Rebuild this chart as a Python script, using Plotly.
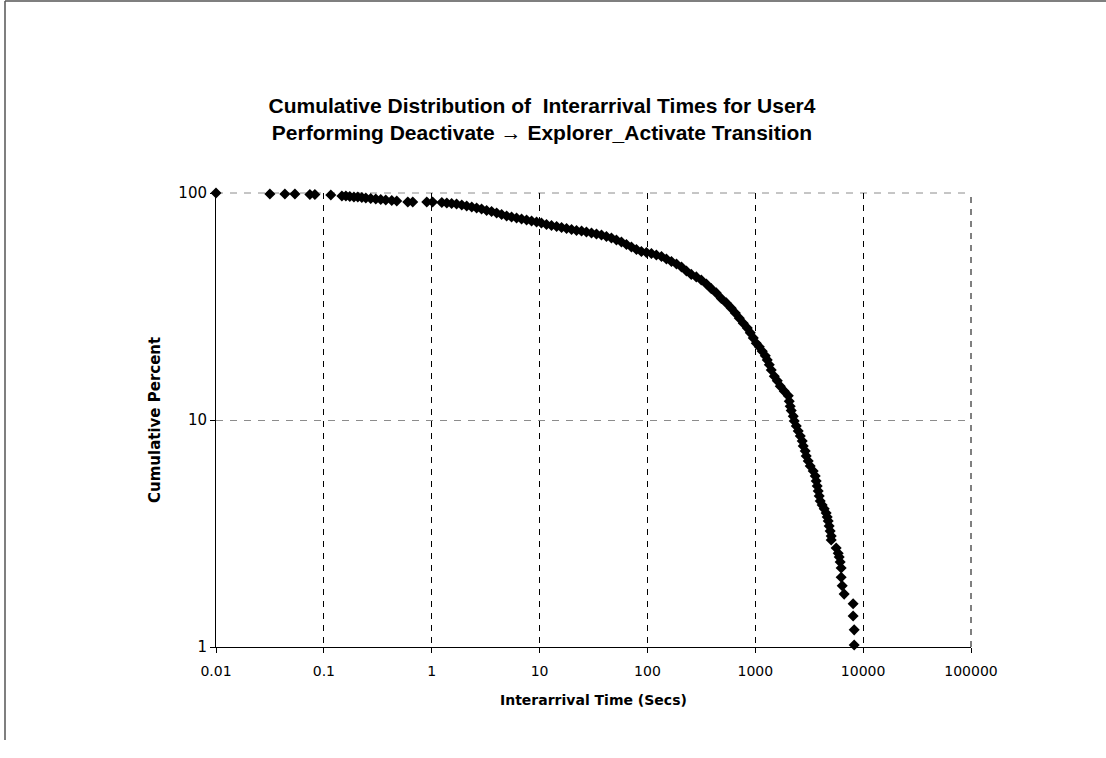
import plotly.graph_objects as go

# Interarrival time (secs) and cumulative percent
interarrival_secs = [
    0.01, 0.0316, 0.0435, 0.0539, 0.0742, 0.0826, 0.116,
    0.147, 0.160, 0.174, 0.190, 0.2065, 0.225, 0.245, 0.272, 0.303, 0.337, 0.375, 0.426, 0.474,
    0.600, 0.667, 0.900, 1.02,
    1.24, 1.38, 1.53, 1.70, 1.90, 2.11, 2.35, 2.61, 2.90, 3.23, 3.59, 4.00, 4.45, 4.95, 5.50,
    6.12, 6.81, 7.58, 8.43, 9.38, 10.4, 11.6, 12.9, 14.4, 16.0, 17.8, 19.8, 22.0, 24.5, 27.2,
    30.3, 33.7, 37.5, 41.7, 46.4, 51.6, 57.4, 63.9, 71.1, 79.1, 87.9, 97.9, 108.9, 121, 135,
    150, 167, 186, 207, 230, 255, 284, 316, 352, 391, 435, 484, 539, 599, 653, 711, 774, 843,
    899, 958, 1021, 1089, 1161, 1238, 1291, 1349, 1406, 1500, 1600, 1704, 1857, 2023, 2065,
    2109, 2154, 2249, 2297, 2399, 2500, 2612, 2723, 2783, 2904, 2966, 3097, 3229, 3443, 3594,
    3672, 3750, 3831, 3916, 4000, 4169, 4355, 4541, 4645, 4742, 4842, 4943, 5058, 5058,
    5623, 5870, 5998, 6124, 6257, 6257, 6397, 6668, 8075, 8075, 8260, 8260,
]
cumulative_percent = [
    100, 99.0, 99.0, 99.0, 98.5, 98.5, 98.0,
    97.0, 97.0, 96.5, 96.0, 96.0, 95.5, 95.1, 94.6, 94.1, 93.6, 93.2, 92.7, 92.2,
    91.3, 91.3, 91.3, 91.3,
    90.8, 90.3, 89.9, 89.4, 88.5, 87.6, 86.8, 85.9, 85.0, 83.7, 82.9, 81.7, 80.4, 79.2, 78.4,
    77.6, 76.8, 76.0, 75.3, 74.5, 73.8, 72.6, 71.9, 71.2, 70.5, 69.8, 69.1, 68.4, 68.0, 67.3,
    66.7, 66.0, 65.3, 64.3, 63.4, 62.1, 60.8, 59.3, 57.8, 56.4, 55.2, 54.7, 54.1, 53.3, 52.5,
    51.2, 49.9, 48.7, 47.2, 45.3, 43.8, 42.7, 41.4, 39.7, 37.9, 36.3, 34.3, 32.8, 31.1, 29.6,
    28.1, 26.7, 25.4, 24.2, 23.0, 21.8, 21.0, 20.1, 19.2, 18.4, 17.5, 16.6, 15.6, 14.9, 14.1,
    13.4, 12.8, 12.1, 11.5, 11.0, 10.4, 9.90, 9.41, 8.94, 8.50, 8.08, 7.68, 7.30, 6.94, 6.60,
    6.27, 5.96, 5.67, 5.39, 5.12, 4.87, 4.63, 4.40, 4.22, 4.06, 3.89, 3.74, 3.59, 3.41, 3.24,
    3.08, 2.96,
    2.73, 2.59, 2.49, 2.37, 2.23, 2.03, 1.86, 1.71, 1.55, 1.37, 1.19, 1.02,
]

x_tick_values = [0.01, 0.1, 1, 10, 100, 1000, 10000, 100000]
x_tick_labels = ["0.01", "0.1", "1", "10", "100", "1000", "10000", "100000"]
y_tick_values = [1, 10, 100]
y_tick_labels = ["1", "10", "100"]

W, H = 1106, 758
L, R, T, B = 216, 971, 193, 647

TITLE_FONT = "Arial, Liberation Sans, Helvetica, sans-serif"
AXIS_FONT = "DejaVu Sans, Verdana, sans-serif"

fig = go.Figure()
fig.add_trace(go.Scatter(
    x=interarrival_secs, y=cumulative_percent, mode="markers",
    marker=dict(symbol="diamond", size=8.5, color="black", line=dict(width=0)),
    cliponaxis=False, showlegend=False, hoverinfo="skip",
))


def px_to_paper_x(px):
    return (px - L) / (R - L)


def py_to_paper_y(py):
    return (B - py) / (B - T)


fig.update_layout(
    width=W, height=H,
    margin=dict(l=L, r=W - R, t=T, b=H - B, pad=0),
    paper_bgcolor="white", plot_bgcolor="white",
    font=dict(family=AXIS_FONT, color="black", size=14),
    title=dict(
        text="<b>Cumulative Distribution of  Interarrival Times for User4<br>"
             "Performing Deactivate \u2192 Explorer_Activate Transition</b>",
        xref="container", yref="container",
        x=542 / W, xanchor="center",
        y=1 - 113 / H, yanchor="middle",
        font=dict(family=TITLE_FONT, size=21, color="black"),
    ),
    xaxis=dict(
        type="log", range=[-2, 5],
        tickvals=x_tick_values, ticktext=x_tick_labels,
        showline=True, linecolor="black", linewidth=1,
        ticks="outside", ticklen=5, tickcolor="black",
        ticklabelstandoff=6,
        showgrid=True, gridcolor="black", gridwidth=1, griddash="6px,6px",
        zeroline=False, mirror=False,
        tickfont=dict(family=AXIS_FONT, size=14, color="black"),
    ),
    yaxis=dict(
        type="log", range=[0, 2],
        tickvals=y_tick_values, ticktext=y_tick_labels,
        showline=True, linecolor="black", linewidth=1,
        ticks="outside", ticklen=5, tickcolor="black",
        showgrid=True, gridcolor="#8c8c8c", gridwidth=1, griddash="7px,7px",
        zeroline=False, mirror=False,
        tickfont=dict(family=AXIS_FONT, size=15, color="black"),
    ),
    annotations=[
        dict(text="<b>Interarrival Time (Secs)</b>", xref="paper", yref="paper",
             x=0.5, y=py_to_paper_y(700), xanchor="center", yanchor="middle",
             showarrow=False, font=dict(family=AXIS_FONT, size=14, color="black")),
        dict(text="<b>Cumulative Percent</b>", xref="paper", yref="paper",
             x=px_to_paper_x(155), y=0.5, xanchor="center", yanchor="middle",
             textangle=-90, showarrow=False,
             font=dict(family=AXIS_FONT, size=15, color="black")),
    ],
    shapes=[
        # page frame
        dict(type="line", xref="paper", yref="paper",
             x0=px_to_paper_x(5), x1=px_to_paper_x(1106),
             y0=py_to_paper_y(1), y1=py_to_paper_y(1),
             line=dict(color="#555555", width=1.5)),
        dict(type="line", xref="paper", yref="paper",
             x0=px_to_paper_x(5), x1=px_to_paper_x(5),
             y0=py_to_paper_y(1), y1=py_to_paper_y(740),
             line=dict(color="#555555", width=1.5)),
        # dashed grid lines along the top and right edges of the plot area
        dict(type="line", xref="paper", yref="paper", x0=0, x1=1, y0=1, y1=1,
             line=dict(color="#8c8c8c", width=1, dash="7px,7px"), layer="below"),
        dict(type="line", xref="paper", yref="paper", x0=1, x1=1, y0=0, y1=1,
             line=dict(color="black", width=1, dash="6px,6px"), layer="below"),
    ],
)

fig.write_html("out.html", config={"displayModeBar": False},
               post_script="document.body.style.margin='0';")
